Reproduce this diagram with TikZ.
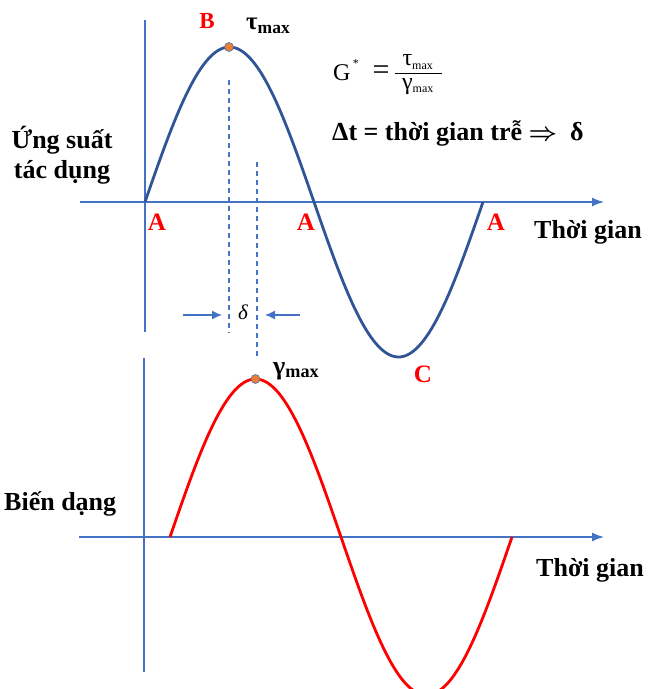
\documentclass[tikz,border=0pt]{standalone}
\usepackage{fontspec}
\setmainfont{Liberation Serif}
\usetikzlibrary{arrows.meta}
\definecolor{axisblue}{HTML}{4472C4}
\definecolor{curveblue}{HTML}{2F5597}
\definecolor{dotorange}{HTML}{ED7D31}
\begin{document}
\begin{tikzpicture}[x=1pt,y=-1pt,
  axis/.style={axisblue,line width=1.4pt},
  axisarrow/.style={axis,-{Latex[length=12pt,width=9pt]}},
  guide/.style={axisblue,line width=1.2pt,dash pattern=on 5pt off 4pt},
  deltaarrow/.style={axisblue,line width=1.3pt,-{Latex[length=10pt,width=9pt]}},
  stresscurve/.style={curveblue,line width=2.8pt},
  straincurve/.style={red,line width=2.8pt},
  peakdot/.style={circle,fill=dotorange,draw=axisblue,line width=0.6pt,minimum size=9pt,inner sep=0pt},
  lbl/.style={font=\fontsize{26}{30}\selectfont\bfseries,inner sep=0pt},
  ptlbl/.style={text=red,font=\fontsize{25}{29}\selectfont\bfseries,inner sep=0pt},
  frm/.style={inner sep=0pt,font=\fontsize{24}{28}\selectfont},
  ]
\clip (0,0) rectangle (650,689);
% ---------- top axes ----------
\coordinate (tyTop) at (145,20);
\coordinate (tyBot) at (145,332);
\coordinate (txL) at (80,202);
\coordinate (txR) at (604,202);
\draw[axis] (tyTop) -- (tyBot);
\draw[axisarrow] (txL) -- (txR);
% ---------- bottom axes ----------
\coordinate (byTop) at (144,358);
\coordinate (byBot) at (144,672);
\coordinate (bxL) at (79,537);
\coordinate (bxR) at (604,537);
\draw[axis] (byTop) -- (byBot);
\draw[axisarrow] (bxL) -- (bxR);
% ---------- curves ----------
\draw[stresscurve] plot[domain=0:338,samples=140] ({145+\x},{202-155*sin(\x/169*180)});
\draw[straincurve] plot[domain=0:342,samples=140] ({170+\x},{537-158*sin(\x/171*180)});
% ---------- guides ----------
\coordinate (g1a) at (229,80);
\coordinate (g1b) at (229,333);
\coordinate (g2a) at (257,162);
\coordinate (g2b) at (257,358);
\draw[guide] (g1a) -- (g1b);
\draw[guide] (g2a) -- (g2b);
\coordinate (dl1) at (183,315);
\coordinate (dl2) at (222,315);
\coordinate (dr1) at (300,315);
\coordinate (dr2) at (265,315);
\draw[deltaarrow] (dl1) -- (dl2);
\draw[deltaarrow] (dr1) -- (dr2);
\node[inner sep=0pt,font=\fontsize{21}{24}\selectfont\itshape] (delta) at (243,312) {δ};
% ---------- peak dots ----------
\node[peakdot] (B) at (229,47) {};
\node[peakdot] (Gm) at (255.5,379) {};
% ---------- labels ----------
\node[ptlbl,font=\fontsize{23}{27}\selectfont\bfseries] (Blbl) at (207,21) {B};
\node[lbl,anchor=west,font=\fontsize{25}{29}\selectfont\bfseries] (tau) at (246,26) {τ\textsubscript{max}};
\node[lbl,anchor=west,font=\fontsize{26}{30}\selectfont\bfseries] (gam) at (273,371) {γ\textsubscript{max}};
\node[ptlbl] (A1) at (157,222) {A};
\node[ptlbl] (A2) at (306,222) {A};
\node[ptlbl] (A3) at (496,222) {A};
\node[ptlbl] (C) at (423,374) {C};
\node[lbl,align=center] (stress) at (62,155) {Ứng suất\\tác dụng};
\node[lbl,anchor=west] (strain) at (4,504) {Biến dạng};
\node[lbl,anchor=west] (time1) at (534,232) {Thời gian};
\node[lbl,anchor=west] (time2) at (536,570) {Thời gian};
% ---------- formula ----------
\node[frm,anchor=west] (G) at (333,73) {G};
\node[frm,anchor=south west,font=\fontsize{12}{14}\selectfont,xshift=2pt,yshift=-3pt] (Gsup) at (G.north east) {*};
\node[frm,font=\fontsize{30}{32}\selectfont] (eq) at (381,73) {=};
\coordinate (barL) at (395,73);
\coordinate (barR) at (442,73);
\draw[line width=0.9pt] (barL) -- (barR);
\node[frm,anchor=south] (num) at (418,70) {τ\textsubscript{\fontsize{12}{14}\selectfont max}};
\node[frm,anchor=north] (den) at (418,78) {γ\textsubscript{\fontsize{12}{14}\selectfont max}};
\node[lbl,anchor=west,font=\fontsize{26}{30}\selectfont\bfseries] (dt) at (332,133) {Δt = thời gian trễ {\boldmath$\Rightarrow$}\ \ δ};
\end{tikzpicture}
\end{document}
